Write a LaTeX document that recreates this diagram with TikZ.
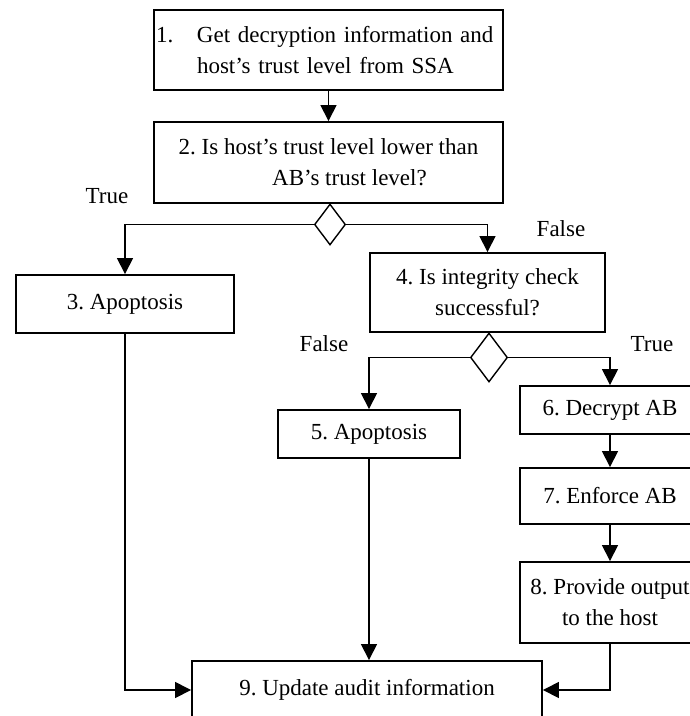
\documentclass[tikz,border=0pt]{standalone}
\usepackage{fontspec}
\setmainfont{Liberation Serif}
\usetikzlibrary{arrows.meta,shapes.geometric,positioning}

\begin{document}
\frenchspacing
\begin{tikzpicture}[
  x=1pt,
  y=-1pt,
  every node/.style={font=\fontsize{23}{31}\selectfont},
  stepbox/.style={draw=black,line width=1.9pt,inner sep=2pt,align=center},
  decision/.style={draw=black,line width=1.4pt,diamond,inner sep=0pt},
  flow/.style={draw=black,line width=1.5pt,-{Triangle[width=16pt,length=16pt]}},
  branch/.style={inner sep=0pt}
]
  \useasboundingbox (0,0) rectangle (690,716);
  \clip (0,0) rectangle (690,716);

  \node[stepbox,text width=345pt,minimum height=80pt,align=left] (s1) at (328.5,50)
    {\makebox[41pt][l]{1.}Get decryption information and\\\hspace*{41pt}host's trust level from SSA};
  \node[stepbox,minimum width=349pt,minimum height=81pt] (s2) at (328.5,162.5)
    {2. Is host's trust level lower than\\\hspace*{42pt}AB's trust level?};
  \node[decision,minimum width=31pt,minimum height=41pt] (d1) at (330,224.5) {};
  \node[stepbox,minimum width=218pt,minimum height=58pt] (s3) at (125,304) {3. Apoptosis};
  \node[stepbox,minimum width=235pt,minimum height=79pt] (s4) at (487.5,292.5)
    {4. Is integrity check\\successful?};
  \node[decision,minimum width=37pt,minimum height=49pt] (d2) at (489,357.5) {};
  \node[stepbox,minimum width=182pt,minimum height=48pt] (s5) at (369,434) {5. Apoptosis};
  \node[stepbox,minimum width=180pt,minimum height=48pt] (s6) at (610,410) {6. Decrypt AB};
  \node[stepbox,minimum width=180pt,minimum height=56pt] (s7) at (610,496) {7. Enforce AB};
  \node[stepbox,minimum width=180pt,minimum height=81pt] (s8) at (610,602.5)
    {8. Provide output\\to the host};
  \node[stepbox,minimum width=350pt,minimum height=58pt] (s9) at (367,690) {9. Update audit information};

  % branch labels
  \node[branch] (t1) at (107,196) {True};
  \node[branch] (f1) at (561,229) {False};
  \node[branch] (f2) at (324,344) {False};
  \node[branch] (t2) at (652,344) {True};

  \draw[flow] (s1) -- (s2);
  \draw[flow] (d1.west) -| (s3.north);
  \draw[flow] (d1.east) -| (s4.north);
  \draw[flow] (d2.west) -| (s5.north);
  \draw[flow] (d2.east) -| (s6.north);
  \draw[flow] (s6) -- (s7);
  \draw[flow] (s7) -- (s8);
  \draw[flow] (s3.south) |- (s9.west);
  \draw[flow] (s5) -- (s5 |- s9.north);
  \draw[flow] (s8.south) |- (s9.east);
\end{tikzpicture}
\end{document}
